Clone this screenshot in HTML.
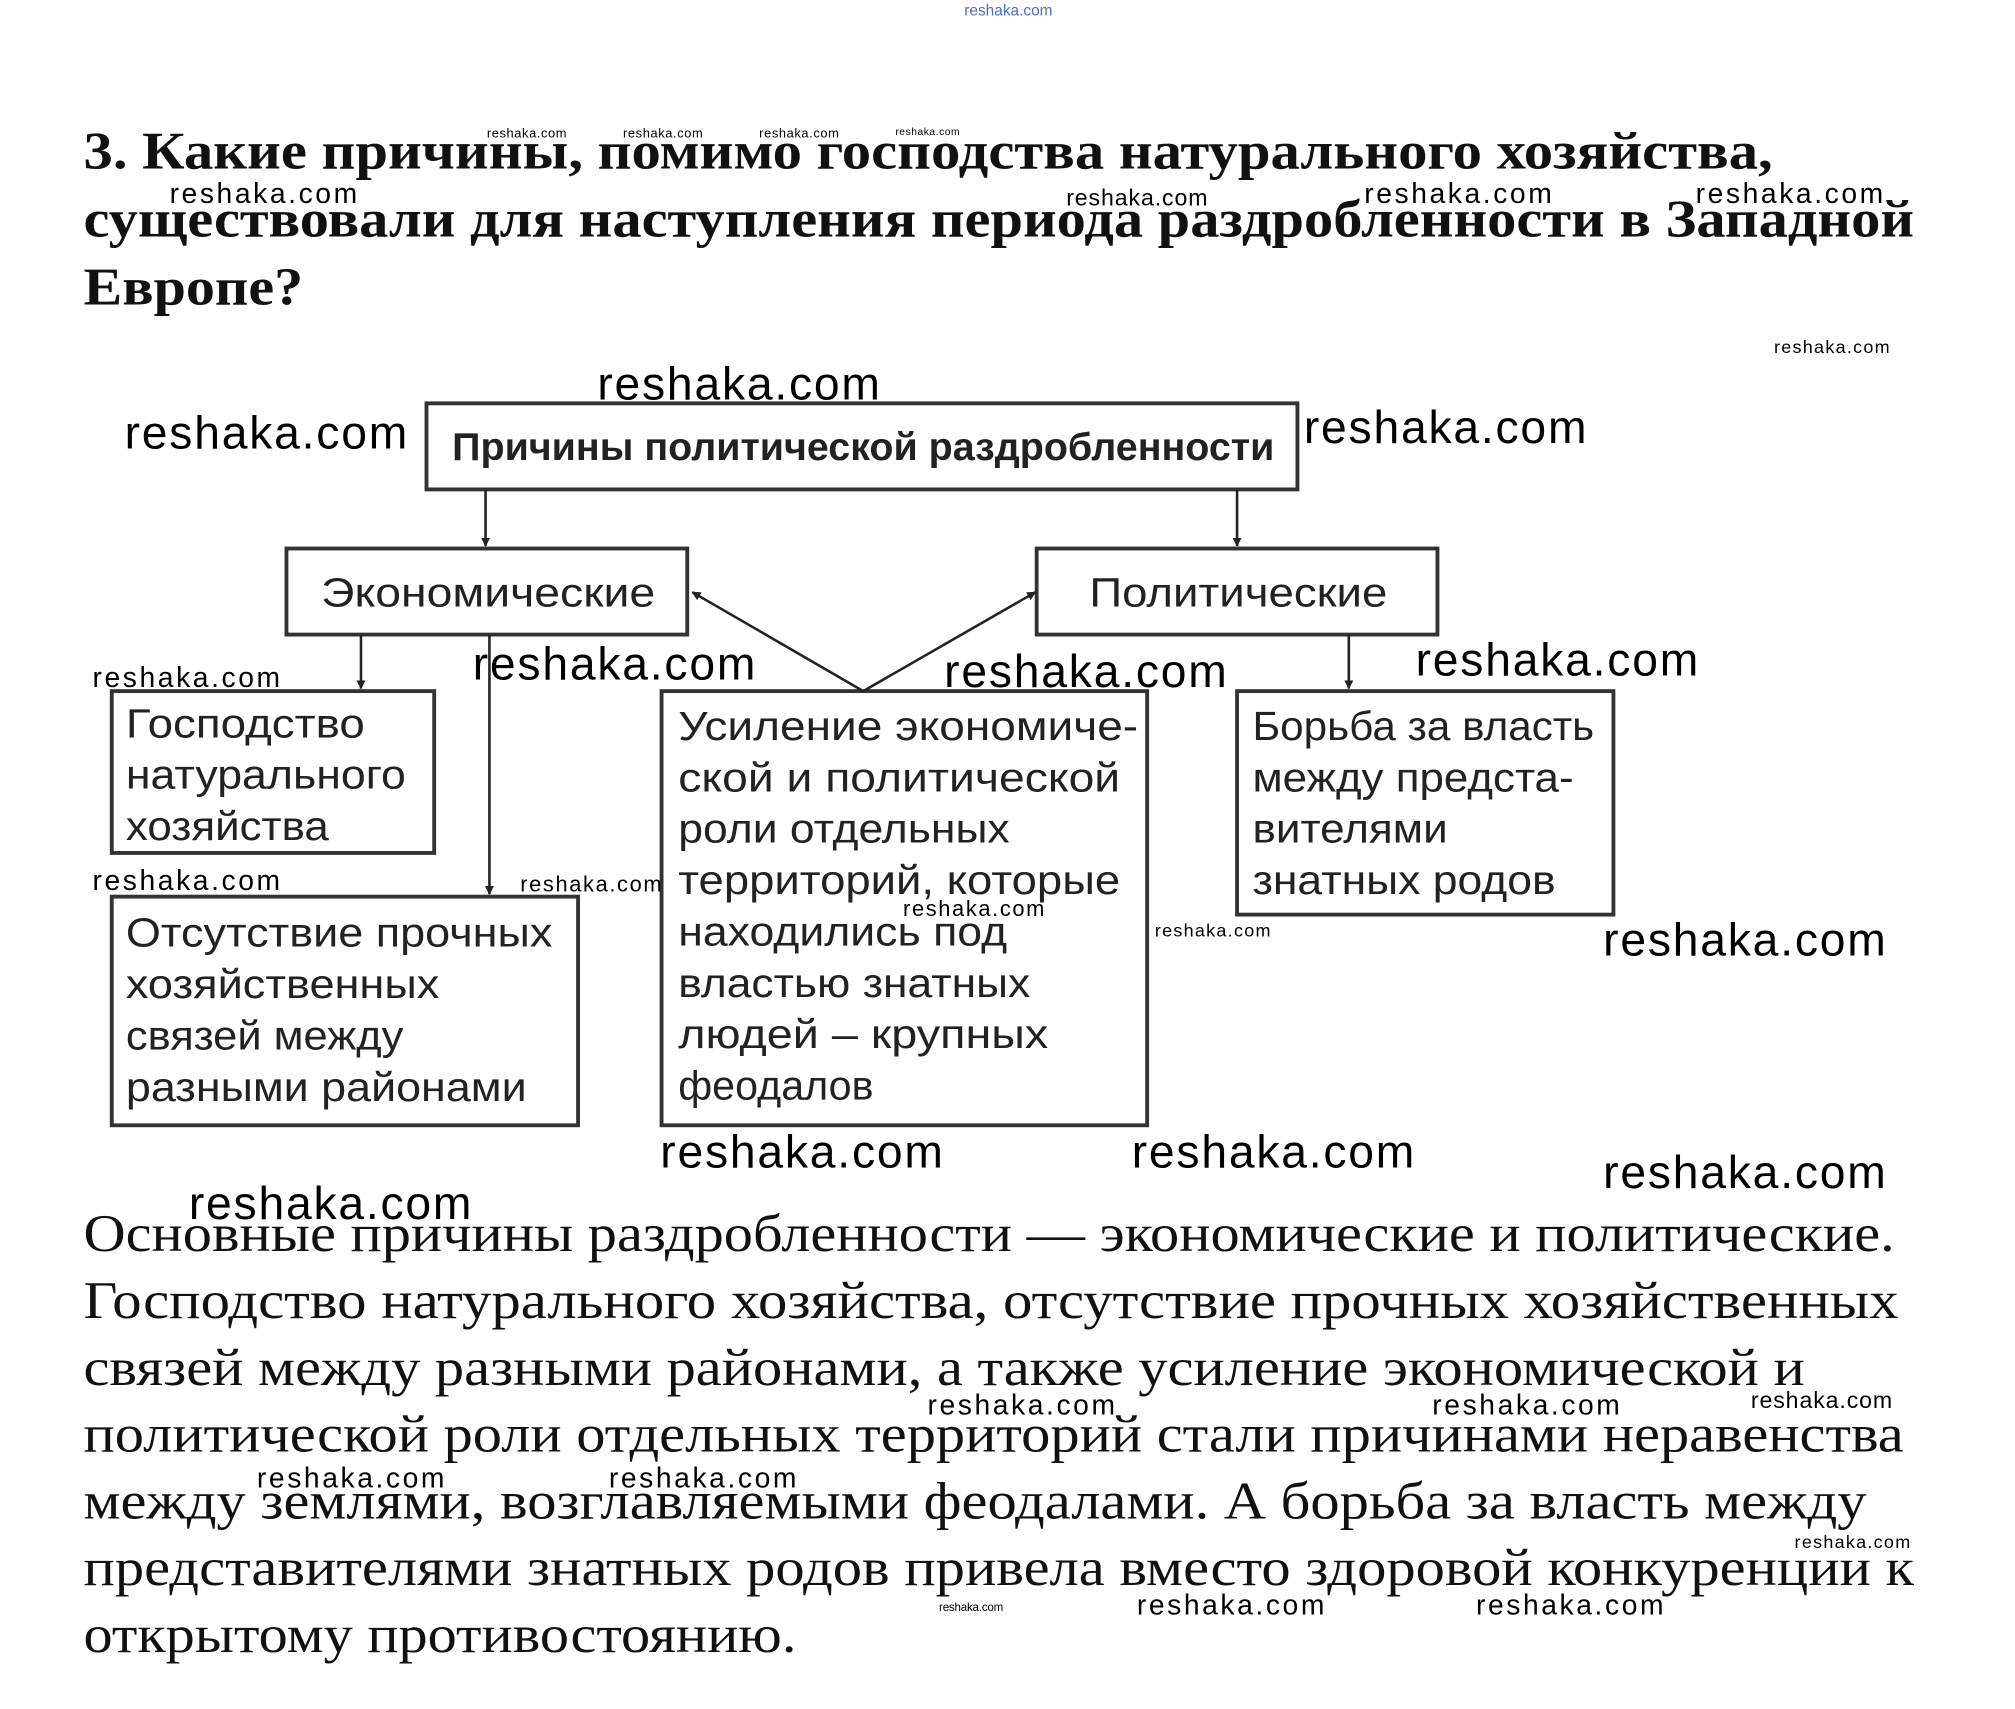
<!DOCTYPE html>
<html><head><meta charset="utf-8"><style>html,body{margin:0;padding:0;background:#fff}svg{display:block}</style></head><body>
<svg width="2015" height="1709" viewBox="0 0 1568.6 1330.4" preserveAspectRatio="none" xmlns="http://www.w3.org/2000/svg">
<defs><marker id="a" viewBox="0 0 10 10" refX="9" refY="5" markerWidth="7" markerHeight="9" orient="auto" markerUnits="userSpaceOnUse"><path d="M0,0 L10,5 L0,10 Z" fill="#222"/></marker></defs>
<g font-family="Liberation Sans, sans-serif" fill="#000">
<text x="785" y="12" font-size="12" fill="#4a6ec8" text-anchor="middle">reshaka.com</text>
</g>
<g font-family="Liberation Serif, serif" font-weight="bold" font-size="41" fill="#111">
<text x="65" y="131" textLength="1315" lengthAdjust="spacingAndGlyphs">3. Какие причины, помимо господства натурального хозяйства,</text>
<text x="65" y="184" textLength="1425" lengthAdjust="spacingAndGlyphs">существовали для наступления периода раздробленности в Западной</text>
<text x="65" y="237" textLength="171" lengthAdjust="spacingAndGlyphs">Европе?</text>
</g>
<g stroke="#333" stroke-width="3" fill="none">
<rect x="332" y="314" width="678" height="67"/>
<rect x="223" y="427" width="312" height="67"/>
<rect x="807" y="427" width="312" height="67"/>
<rect x="87" y="538" width="251" height="126"/>
<rect x="87" y="698" width="363" height="178"/>
<rect x="515" y="538" width="378" height="338"/>
<rect x="963" y="538" width="293" height="174"/>
</g>
<g stroke="#222" stroke-width="2" fill="none" marker-end="url(#a)">
<line x1="378" y1="381" x2="378" y2="425"/>
<line x1="963" y1="381" x2="963" y2="425"/>
<line x1="281" y1="494" x2="281" y2="536"/>
<line x1="381" y1="494" x2="381" y2="696"/>
<line x1="1050" y1="494" x2="1050" y2="536"/>
<line x1="672" y1="538" x2="539" y2="461"/>
<line x1="672" y1="538" x2="806" y2="461"/>
</g>
<g font-family="Liberation Sans, sans-serif" fill="#222" font-size="32" lengthAdjust="spacingAndGlyphs">
<text x="352" y="358" font-weight="bold" font-size="30" textLength="640" lengthAdjust="spacingAndGlyphs">Причины политической раздробленности</text>
<text x="250" y="472" textLength="260" lengthAdjust="spacingAndGlyphs">Экономические</text>
<text x="848" y="472" textLength="232" lengthAdjust="spacingAndGlyphs">Политические</text>
<text x="98" y="574" textLength="186" lengthAdjust="spacingAndGlyphs">Господство</text>
<text x="98" y="614" textLength="218" lengthAdjust="spacingAndGlyphs">натурального</text>
<text x="98" y="654" textLength="158" lengthAdjust="spacingAndGlyphs">хозяйства</text>
<text x="98" y="737" textLength="332" lengthAdjust="spacingAndGlyphs">Отсутствие прочных</text>
<text x="98" y="777" textLength="244" lengthAdjust="spacingAndGlyphs">хозяйственных</text>
<text x="98" y="817" textLength="216" lengthAdjust="spacingAndGlyphs">связей между</text>
<text x="98" y="857" textLength="312" lengthAdjust="spacingAndGlyphs">разными районами</text>
<text x="528" y="576" textLength="358" lengthAdjust="spacingAndGlyphs">Усиление экономиче-</text>
<text x="528" y="616" textLength="344" lengthAdjust="spacingAndGlyphs">ской и политической</text>
<text x="528" y="656" textLength="258" lengthAdjust="spacingAndGlyphs">роли отдельных</text>
<text x="528" y="696" textLength="344" lengthAdjust="spacingAndGlyphs">территорий, которые</text>
<text x="528" y="736" textLength="256" lengthAdjust="spacingAndGlyphs">находились под</text>
<text x="528" y="776" textLength="274" lengthAdjust="spacingAndGlyphs">властью знатных</text>
<text x="528" y="816" textLength="288" lengthAdjust="spacingAndGlyphs">людей – крупных</text>
<text x="528" y="856" textLength="152" lengthAdjust="spacingAndGlyphs">феодалов</text>
<text x="975" y="576" textLength="266" lengthAdjust="spacingAndGlyphs">Борьба за власть</text>
<text x="975" y="616" textLength="250" lengthAdjust="spacingAndGlyphs">между предста-</text>
<text x="975" y="656" textLength="152" lengthAdjust="spacingAndGlyphs">вителями</text>
<text x="975" y="696" textLength="236" lengthAdjust="spacingAndGlyphs">знатных родов</text>
</g>
<g font-family="Liberation Serif, serif" font-size="41" fill="#111" lengthAdjust="spacingAndGlyphs">
<text x="65" y="974" textLength="1410" lengthAdjust="spacingAndGlyphs">Основные причины раздробленности — экономические и политические.</text>
<text x="65" y="1026" textLength="1413" lengthAdjust="spacingAndGlyphs">Господство натурального хозяйства, отсутствие прочных хозяйственных</text>
<text x="65" y="1078" textLength="1340" lengthAdjust="spacingAndGlyphs">связей между разными районами, а также усиление экономической и</text>
<text x="65" y="1130" textLength="1417" lengthAdjust="spacingAndGlyphs">политической роли отдельных территорий стали причинами неравенства</text>
<text x="65" y="1182" textLength="1388" lengthAdjust="spacingAndGlyphs">между землями, возглавляемыми феодалами. А борьба за власть между</text>
<text x="65" y="1234" textLength="1425" lengthAdjust="spacingAndGlyphs">представителями знатных родов привела вместо здоровой конкуренции к</text>
<text x="65" y="1286" textLength="555" lengthAdjust="spacingAndGlyphs">открытому противостоянию.</text>
</g>
<g font-family="Liberation Sans, sans-serif" fill="#000" text-anchor="middle" lengthAdjust="spacingAndGlyphs">
<text x="410" y="107" font-size="10" textLength="62">reshaka.com</text>
<text x="516" y="107" font-size="10" textLength="62">reshaka.com</text>
<text x="622" y="107" font-size="10" textLength="62">reshaka.com</text>
<text x="722" y="105" font-size="8" textLength="50">reshaka.com</text>
<text x="205" y="158" font-size="22" textLength="146">reshaka.com</text>
<text x="885" y="160" font-size="18" textLength="110">reshaka.com</text>
<text x="1135" y="158" font-size="22" textLength="146">reshaka.com</text>
<text x="1393" y="158" font-size="22" textLength="146">reshaka.com</text>
<text x="1426" y="275" font-size="14" textLength="90">reshaka.com</text>
<text x="575" y="311" font-size="36" textLength="220">reshaka.com</text>
<text x="207" y="349" font-size="36" textLength="220">reshaka.com</text>
<text x="1125" y="345" font-size="36" textLength="220">reshaka.com</text>
<text x="478" y="529" font-size="36" textLength="220">reshaka.com</text>
<text x="845" y="535" font-size="36" textLength="220">reshaka.com</text>
<text x="1212" y="526" font-size="36" textLength="220">reshaka.com</text>
<text x="145" y="535" font-size="22" textLength="146">reshaka.com</text>
<text x="145" y="693" font-size="22" textLength="146">reshaka.com</text>
<text x="460" y="694" font-size="17" textLength="110">reshaka.com</text>
<text x="758" y="713" font-size="17" textLength="110">reshaka.com</text>
<text x="944" y="729" font-size="14" textLength="90">reshaka.com</text>
<text x="1358" y="744" font-size="36" textLength="220">reshaka.com</text>
<text x="624" y="909" font-size="36" textLength="220">reshaka.com</text>
<text x="991" y="909" font-size="36" textLength="220">reshaka.com</text>
<text x="1358" y="925" font-size="36" textLength="220">reshaka.com</text>
<text x="257" y="949" font-size="36" textLength="220">reshaka.com</text>
<text x="795" y="1101" font-size="22" textLength="146">reshaka.com</text>
<text x="1188" y="1101" font-size="22" textLength="146">reshaka.com</text>
<text x="1418" y="1096" font-size="18" textLength="110">reshaka.com</text>
<text x="273" y="1158" font-size="22" textLength="146">reshaka.com</text>
<text x="547" y="1158" font-size="22" textLength="146">reshaka.com</text>
<text x="1442" y="1205" font-size="14" textLength="90">reshaka.com</text>
<text x="756" y="1254" font-size="9" textLength="50">reshaka.com</text>
<text x="958" y="1257" font-size="22" textLength="146">reshaka.com</text>
<text x="1222" y="1257" font-size="22" textLength="146">reshaka.com</text>
</g>
</svg>
</body></html>
